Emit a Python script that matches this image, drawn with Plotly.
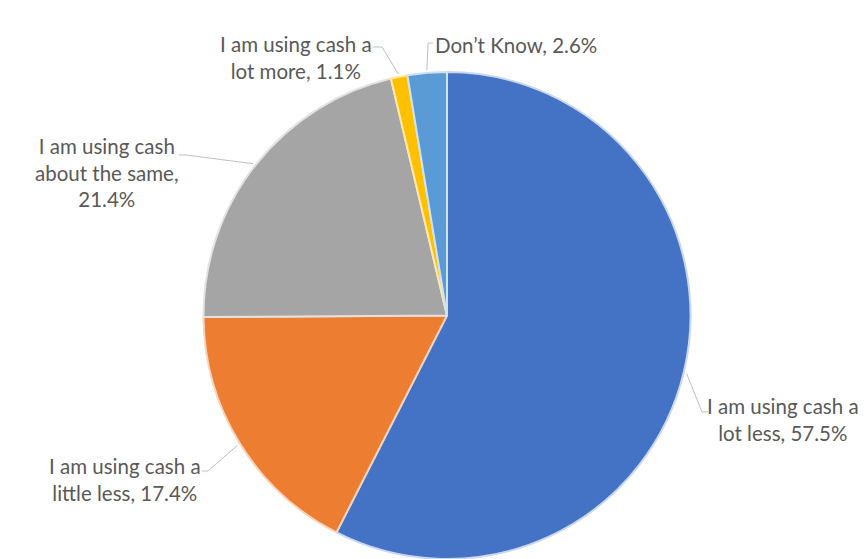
import math
import plotly.graph_objects as go

# ---- data ----
labels = [
    "I am using cash a lot less",
    "I am using cash a little less",
    "I am using cash about the same",
    "I am using cash a lot more",
    "Don\u2019t Know",
]
values = [57.5, 17.4, 21.4, 1.1, 2.6]
label_texts = [
    "I am using cash a<br>lot less, 57.5%",
    "I am using cash a<br>little less, 17.4%",
    "I am using cash<br>about the same,<br>21.4%",
    "I am using cash a<br>lot more, 1.1%",
    "Don\u2019t Know, 2.6%",
]
colors = ["#4472C4", "#ED7D31", "#A5A5A5", "#FFC000", "#5B9BD5"]
border_colors = ["#c9d7ef", "#f8d3bb", "#e2e2e2", "#ffe8a6", "#cfe2f3"]

W, H = 867, 559
CX, CY, R = 447.0, 316.0, 244.0

def px(x, y):
    return x / W, 1 - y / H

dom_x = [(CX - R) / W, (CX + R) / W]
dom_y = [max(0.0, 1 - (CY + R) / H), 1 - (CY - R) / H]

fig = go.Figure(go.Pie(
    labels=labels, values=values, sort=False, direction="clockwise", rotation=0,
    marker=dict(colors=colors, line=dict(color=border_colors, width=2)),
    textinfo="none", hoverinfo="label+percent", showlegend=False,
    domain=dict(x=dom_x, y=dom_y),
))

# label layout (pixel positions of text and leader line elbows)
label_layout = [
    (783, 419, "center", "center", [(708, 412), (702, 412)]),
    (125, 479, "center", "center", [(202, 471), (208, 471)]),
    (107, 173, "center", "center", [(179, 155), (186, 155)]),
    (296, 57, "center", "center", [(373, 47), (382, 47)]),
    (433, 45, "left", "left", [(433, 43), (428, 43)]),
]

total = sum(values)
cum = 0.0
shapes = []
annotations = []
for v, txt, lay in zip(values, label_texts, label_layout):
    mid = (cum + v / 2) / total * 2 * math.pi
    cum += v
    ex = CX + R * 1.01 * math.sin(mid)
    ey = CY - R * 1.01 * math.cos(mid)
    tx, ty, xa, al, pts = lay
    pts = pts + [(ex, ey)]
    path = "M " + " L ".join(f"{px(x, y)[0]:.5f},{px(x, y)[1]:.5f}" for x, y in pts)
    shapes.append(dict(type="path", xref="paper", yref="paper", path=path,
                       line=dict(color="#bfbfbf", width=1)))
    ax, ay = px(tx, ty)
    annotations.append(dict(text=txt, x=ax, y=ay, xref="paper", yref="paper",
                            xanchor=xa, yanchor="middle", align=al, showarrow=False,
                            font=dict(family="Lato", size=20.5, color="#595959")))

fig.update_layout(
    width=W, height=H, margin=dict(l=0, r=0, t=0, b=0),
    paper_bgcolor="white", plot_bgcolor="white",
    shapes=shapes, annotations=annotations,
)
fig.write_html("out.html")
